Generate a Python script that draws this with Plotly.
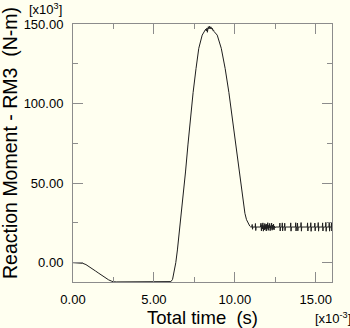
import plotly.graph_objects as go

# ---- data (time in 1e-3 s, moment in 1e3 N-m) ----
main_t = [0, 0.3, 0.6, 0.8, 1.0, 1.2, 1.4, 1.6, 1.8, 2.0, 2.2, 2.4, 2.5, 2.7, 3.0, 3.5,
          4.0, 4.5, 5.0, 5.5, 6.0, 6.05, 6.15, 6.25, 6.35, 6.45, 6.55, 6.65, 6.75, 6.84,
          6.95, 7.1, 7.25, 7.42, 7.6, 7.77, 7.98, 8.15, 8.2, 8.24, 8.28, 8.3, 8.32, 8.36,
          8.40, 8.44, 8.48, 8.52, 8.56, 8.60, 8.64, 8.68, 8.72, 8.91, 9.16, 9.4, 9.63,
          9.8, 10.0, 10.2, 10.31, 10.4, 10.5, 10.62, 10.72, 10.83, 10.92]
main_m = [0, -0.1, -0.4, -1.2, -2.4, -3.8, -5.3, -6.7, -8.2, -9.6, -10.8, -11.7, -12.0,
          -12.1, -12.1, -12.05, -12.1, -12.0, -12.1, -12.05, -12.0, -11.9, -10.5, -6.0,
          0.0, 8.0, 17.0, 27.0, 37.0, 46.0, 57.0, 74.0, 90.0, 107.0, 122.0, 134.7, 143.0,
          146.0, 146.8, 145.6, 147.5, 144.8, 146.2, 148.3, 146.9, 148.6, 147.0, 148.2,
          146.8, 147.4, 145.9, 146.2, 145.2, 143.0, 134.7, 122.0, 107.0, 94.0, 78.0, 61.0,
          52.0, 45.0, 38.0, 31.0, 27.0, 24.5, 23.0]

tail_t = [10.97, 11.05, 11.07, 11.09, 11.11, 11.25, 11.27, 11.29, 11.31, 11.58, 11.61,
          11.64, 11.67, 11.70, 11.73, 11.76, 11.79, 11.82, 11.85, 11.88, 11.91, 11.94,
          11.97, 12.00, 12.03, 12.06, 12.09, 12.12, 12.15, 12.18, 12.21, 12.24, 12.27,
          12.30, 12.33, 12.36, 12.39, 12.42, 12.45, 12.48, 12.51, 12.76, 12.78, 12.80,
          12.82, 12.91, 12.93, 12.95, 12.97, 13.06, 13.08, 13.10, 13.12, 13.43, 13.45,
          13.47, 13.49, 13.74, 13.76, 13.78, 13.80, 13.85, 13.87, 13.89, 13.91, 14.07,
          14.09, 14.11, 14.13, 14.47, 14.49, 14.51, 14.53, 14.67, 14.69, 14.71, 14.73,
          14.92, 14.94, 14.96, 14.98, 15.13, 15.15, 15.17, 15.19, 15.40, 15.42, 15.44,
          15.46, 15.60, 15.62, 15.64, 15.66, 15.81, 15.83, 15.85, 15.87, 15.95, 15.97,
          15.99, 16.0]
tail_m = [22.5, 22.4, 24.0, 21.0, 22.4, 22.4, 24.6, 20.2, 22.4, 22.4, 24.8, 20.0, 23.8,
          21.2, 25.0, 19.8, 23.4, 20.6, 24.6, 21.0, 23.9, 19.9, 24.2, 21.4, 25.1, 20.3,
          23.5, 21.8, 24.7, 20.1, 23.2, 21.5, 24.9, 20.4, 23.6, 21.1, 24.3, 20.6, 23.0,
          21.9, 22.4, 22.4, 24.9, 19.9, 22.4, 22.4, 25.0, 20.0, 22.4, 22.4, 24.8, 20.1,
          22.4, 22.4, 25.0, 19.8, 22.4, 22.4, 25.1, 19.9, 22.4, 22.4, 24.9, 20.0, 22.4,
          22.4, 25.2, 19.8, 22.4, 22.4, 25.0, 19.9, 22.4, 22.4, 25.1, 19.7, 22.4, 22.4,
          24.9, 20.0, 22.4, 22.4, 25.2, 19.8, 22.4, 22.4, 25.0, 19.9, 22.4, 22.4, 25.3,
          19.7, 22.4, 22.4, 25.1, 19.8, 22.4, 22.4, 25.2, 19.9, 22.4]

x_tickvals = [0, 5, 10, 15]
x_ticktext = ["0.00", "5.00", "10.00", "15.00"]
y_tickvals = [0, 50, 100, 150]
y_ticktext = ["0.00", "50.00", "100.00", "150.00"]

BG = "#FFFFF0"
AX = "#8C8C8C"
FONT = "Liberation Sans, Arial, Helvetica, sans-serif"

fig = go.Figure()
fig.add_trace(go.Scatter(x=main_t + tail_t, y=main_m + tail_m, mode="lines",
                         line=dict(color="#1e1e1e", width=1), showlegend=False,
                         hoverinfo="skip"))

common = dict(showgrid=False, zeroline=False, showline=True, linecolor=AX, linewidth=1,
              mirror="ticks", ticks="inside", ticklen=10, tickcolor=AX, tickwidth=1,
              tickfont=dict(family=FONT, size=13, color="#000"))

fig.update_xaxes(range=[0, 16], tickmode="array", tickvals=x_tickvals, ticktext=x_ticktext,
                 ticklabelstandoff=5,
                 minor=dict(dtick=2.5, tick0=0, ticks="inside", ticklen=5, tickcolor=AX,
                            tickwidth=1, showgrid=False), **common)
fig.update_yaxes(range=[-12.15, 150], tickmode="array", tickvals=y_tickvals, ticktext=y_ticktext,
                 ticklabelstandoff=6,
                 minor=dict(dtick=25, tick0=0, ticks="inside", ticklen=5, tickcolor=AX,
                            tickwidth=1, showgrid=False), **common)

ann = []
ann.append(dict(text="Total time  (s)", x=202, y=328 - 317,
                font=dict(family=FONT, size=18.5, color="#000")))
ann.append(dict(text="Reaction Moment - RM3  (N-m)", textangle=-90, x=10, y=328 - 143,
                font=dict(family=FONT, size=19.5, color="#000")))
ann.append(dict(text="[x10<sup>3</sup>]", x=45, y=328 - 9,
                font=dict(family=FONT, size=13, color="#000")))
ann.append(dict(text="[x10<sup>-3</sup>]", x=333, y=328 - 318,
                font=dict(family=FONT, size=13, color="#000")))

# convert pixel positions to paper coordinates
L, R, T, B = 73, 18, 24, 46
W, H = 350, 328
pw, ph = W - L - R, H - T - B
for a in ann:
    a["x"] = (a["x"] - L) / pw
    a["y"] = (a["y"] - B) / ph
    a["xref"] = "paper"
    a["yref"] = "paper"
    a["xanchor"] = "center"
    a["yanchor"] = "middle"
    a["showarrow"] = False

fig.update_layout(width=W, height=H, margin=dict(l=L, r=R, t=T, b=B, pad=0),
                  paper_bgcolor=BG, plot_bgcolor=BG, annotations=ann,
                  font=dict(family=FONT, color="#000"))

fig.write_html("out.html", config={"displayModeBar": False},
               post_script="document.body.style.margin='0';document.body.style.background='%s';" % BG)
